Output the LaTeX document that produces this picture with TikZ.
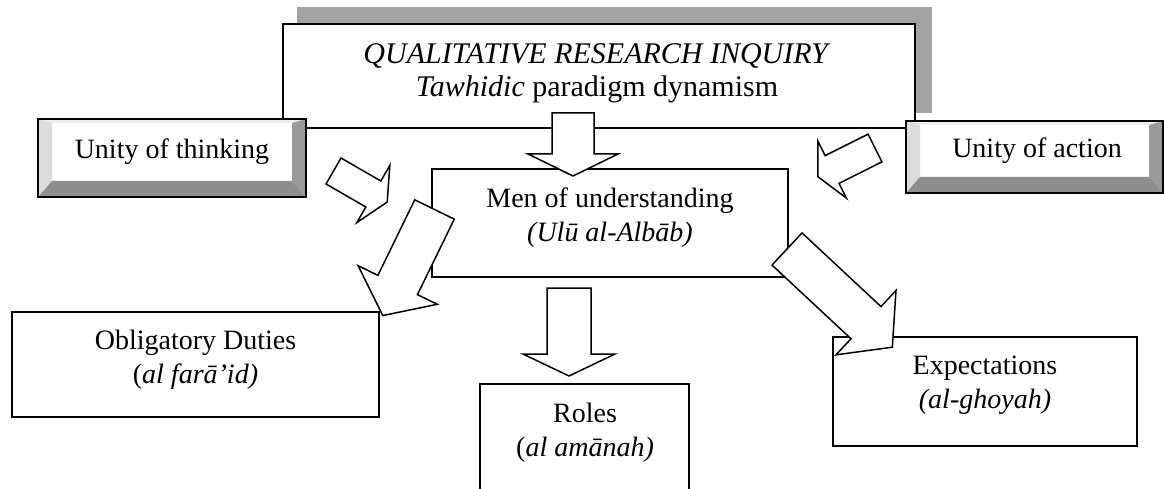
\documentclass[tikz,border=0pt]{standalone}
\usepackage{fontspec}
\setmainfont{Liberation Serif}
\definecolor{shadowgray}{HTML}{A3A3A3}
\definecolor{bevlight}{HTML}{DCDCDC}
\definecolor{bevtop}{HTML}{EDEDED}
\definecolor{bevdark}{HTML}{9A9A9A}
\definecolor{bevbottom}{HTML}{8E8E8E}
\begin{document}
\begin{tikzpicture}[x=1pt, y=-1pt, line width=1.6pt,
	box/.style={draw, fill=white, inner sep=0pt, outer sep=0pt},
	bevelbox/.style={draw, fill=white, line width=2.2pt, inner sep=0pt, outer sep=0pt},
	lbl/.style={inner sep=0pt, align=center, font=\fontsize{28}{34}\selectfont},
	blockarrow/.style={draw, fill=white, line width=1.5pt, line join=miter}]
	\useasboundingbox (0,0) rectangle (1164,489);
	% Kopfkasten mit Schatten
	\fill[shadowgray] (297,7) rectangle (932,113);
	\node[box, minimum width=632, minimum height=104] (title) at (599,76) {};
	\node[lbl, font=\fontsize{30}{33}\selectfont] (titletext) at (597,73)
		{\textit{QUALITATIVE RESEARCH INQUIRY}\\\textit{Tawhidic} paradigm dynamism};
	% Kasten mit Abschraegung
	\node[bevelbox, minimum width=268, minimum height=78] (thinking) at (172,158) {};
	\node[bevelbox, minimum width=257, minimum height=72] (action) at (1034.5,157) {};
	\foreach \b in {thinking, action} {
		\fill[bevtop] (\b.north west) -- (\b.north east) -- ([shift={(-14,4)}]\b.north east) -- ([shift={(14,4)}]\b.north west) -- cycle;
		\fill[bevlight] (\b.north west) -- (\b.south west) -- ([shift={(14,-16)}]\b.south west) -- ([shift={(14,4)}]\b.north west) -- cycle;
		\fill[bevdark] (\b.north east) -- (\b.south east) -- ([shift={(-14,-16)}]\b.south east) -- ([shift={(-14,4)}]\b.north east) -- cycle;
		\fill[bevbottom] (\b.south west) -- (\b.south east) -- ([shift={(-14,-16)}]\b.south east) -- ([shift={(14,-16)}]\b.south west) -- cycle;
		\draw[line width=2.2pt] (\b.north west) rectangle (\b.south east);
	}
	\node[lbl] (thinkingtext) at (172,151.5) {Unity of thinking};
	\node[lbl] (actiontext) at (1037,151) {Unity of action};
	% Mitte und untere Kaesten
	\node[box, minimum width=356, minimum height=108] (men) at (610,223) {};
	\node[lbl] (mentext) at (610,217.5) {Men of understanding\\\textit{(Ulū al-Albāb)}};
	\node[box, minimum width=367, minimum height=105] (duties) at (195.5,364.5) {};
	\node[lbl] (dutiestext) at (195.5,359.5) {Obligatory Duties\\(\textit{al farā’id)}};
	\node[box, minimum width=209, minimum height=136, anchor=north] (roles) at (584.5,384) {};
	\node[lbl] (rolestext) at (585,432.5) {Roles\\(\textit{al amānah)}};
	\node[box, minimum width=304, minimum height=109] (expect) at (985,391.5) {};
	\node[lbl] (expecttext) at (985,385.5) {Expectations\\\textit{(al-ghoyah)}};
	% Blockpfeile
	\foreach \x/\y/\a/\l/\h/\s/\w in {333.5/171/-30/62/16/15/33, 875/148/-153.4/64/16/15.5/32,
		434.5/209.5/-116/118/34/22/44, 787/249/-43/144/36/22/44,
		573/113/-90/63/22/21/45, 569/288/-90/88/22/22/46} {
		\draw[blockarrow, shift={(\x,\y)}, rotate=\a] (0,-\s) -- (\l-\h,-\s) -- (\l-\h,-\w)
			-- (\l,0) -- (\l-\h,\w) -- (\l-\h,\s) -- (0,\s) -- cycle;
	}
\end{tikzpicture}
\end{document}
